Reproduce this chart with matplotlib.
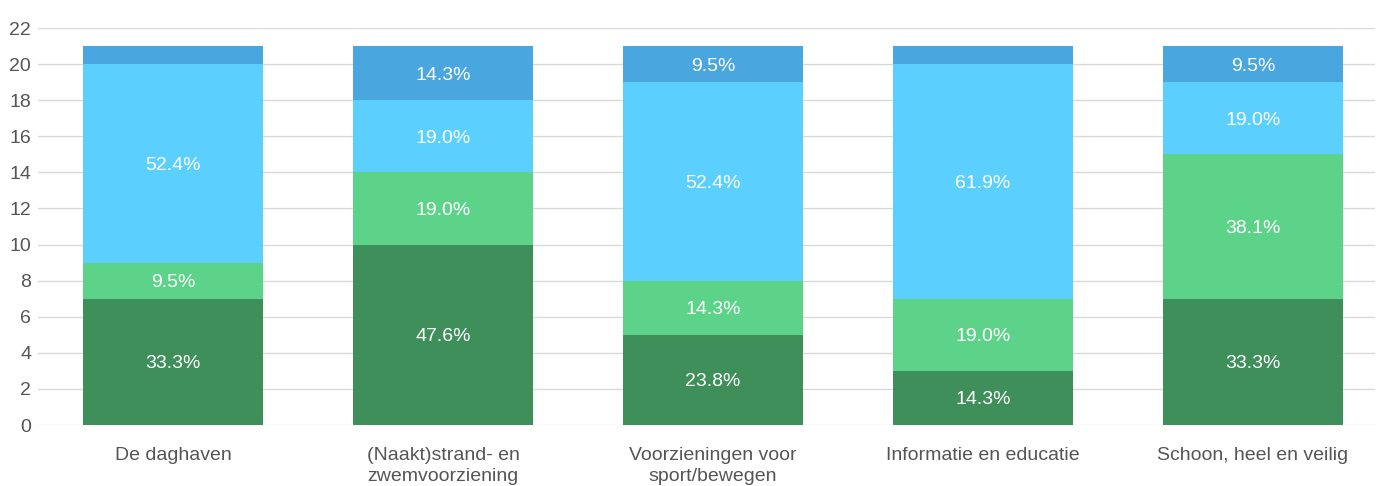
import numpy as np
import matplotlib.pyplot as plt

plt.rcParams['font.family'] = ['Liberation Sans', 'DejaVu Sans']

categories = ['De daghaven', '(Naakt)strand- en\nzwemvoorziening', 'Voorzieningen voor\nsport/bewegen',
              'Informatie en educatie', 'Schoon, heel en veilig']
seg1 = [7, 10, 5, 3, 7]
seg2 = [2, 4, 3, 4, 8]
seg3 = [11, 4, 11, 13, 4]
seg4 = [1, 3, 2, 1, 2]
labels1 = ['33.3%', '47.6%', '23.8%', '14.3%', '33.3%']
labels2 = ['9.5%', '19.0%', '14.3%', '19.0%', '38.1%']
labels3 = ['52.4%', '19.0%', '52.4%', '61.9%', '19.0%']
labels4 = ['', '14.3%', '9.5%', '', '9.5%']
yticks = [0, 2, 4, 6, 8, 10, 12, 14, 16, 18, 20, 22]

colors = ['#3f8f5b', '#5dd389', '#5bcffd', '#4aa6df']

fig = plt.figure(figsize=(13.81, 4.86), dpi=100)
ax = fig.add_axes([38 / 1381, 1 - 425 / 486, (1375 - 38) / 1381, (425 - 28) / 486])

x = np.arange(len(categories))
bottom = np.zeros(len(categories))
for vals, labs, c in zip([seg1, seg2, seg3, seg4], [labels1, labels2, labels3, labels4], colors):
    ax.bar(x, vals, bottom=bottom, width=0.667, color=c, zorder=2)
    for xi, b, v, lab in zip(x, bottom, vals, labs):
        if lab:
            ax.text(xi, b + v / 2, lab, ha='center', va='center_baseline', color='white', fontsize=14)
    bottom += np.array(vals)

ax.set_xlim(-0.5, (1375 - 173) / 270)
ax.set_ylim(0, 22)
ax.set_yticks(yticks)
ax.set_yticklabels([str(t) for t in yticks], fontsize=14, color='#555555')
ax.set_xticks(x)
ax.set_xticklabels(categories, fontsize=14, color='#555555', linespacing=1.3)
ax.tick_params(axis='both', length=0)
ax.tick_params(axis='x', pad=16)
ax.tick_params(axis='y', pad=5)
ax.yaxis.grid(True, color='#d9d9d9', linewidth=1, zorder=0)
ax.set_axisbelow(True)
for s in ax.spines.values():
    s.set_visible(False)

fig.savefig('out.png', dpi=100)
